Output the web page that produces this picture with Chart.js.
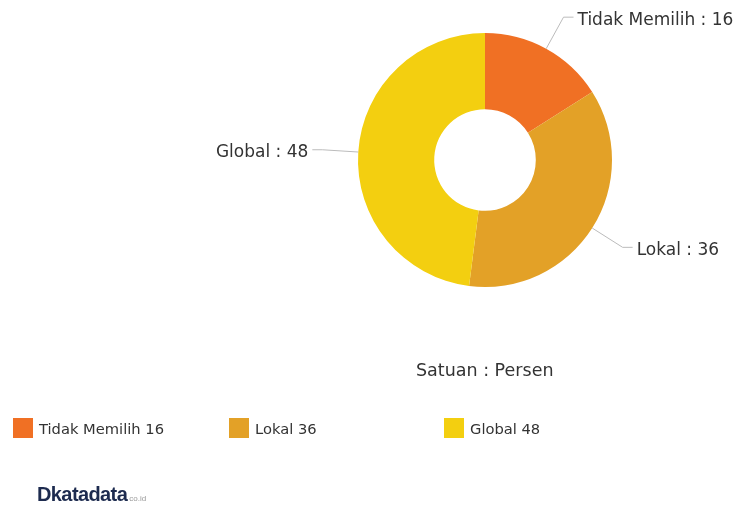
<!DOCTYPE html>
<html>
<head>
<meta charset="utf-8">
<script src="https://cdn.jsdelivr.net/npm/chart.js@4"></script>
<style>
  body { margin: 0; background: #fff; font-family: "DejaVu Sans", Verdana, sans-serif; color: #333; }
  #wrap { position: relative; width: 738px; height: 506px; }
  #c { position: absolute; left: 0; top: 0; }
  .satuan { position: absolute; left: 416px; top: 360px; font-size: 17.5px; color: #333; }
  .leg { position: absolute; top: 418px; font-size: 14.7px; color: #333; display: flex; align-items: center; height: 20px; }
  .leg span.box { width: 20px; height: 20px; display: inline-block; margin-right: 6px; }
  .logo { position: absolute; left: 37px; top: 483px; font-weight: bold; color: #1d2b4f; font-size: 20px; letter-spacing: -0.6px; font-family: "Liberation Sans Narrow", "Liberation Sans", sans-serif; }
  .logo small { font-size: 8px; font-weight: normal; color: #999; letter-spacing: 0; margin-left: 2px; }
</style>
</head>
<body>
<div id="wrap">
  <canvas id="c" width="738" height="506"></canvas>
  <div class="satuan">Satuan : Persen</div>
  <div id="legend"></div>
  <div class="logo">Dkatadata<small>co.id</small></div>
</div>
<script>
var kategori = ["Tidak Memilih", "Lokal", "Global"];
var nilai = [16, 36, 48];
var warna = ["#f07024", "#e3a127", "#f3cf10"];
var legendX = [13, 229, 444];

// legend di bawah
var lg = document.getElementById("legend");
for (var i = 0; i < kategori.length; i++) {
  var d = document.createElement("div");
  d.className = "leg";
  d.style.left = legendX[i] + "px";
  d.innerHTML = '<span class="box" style="background:' + warna[i] + '"></span>' + kategori[i] + " " + nilai[i];
  lg.appendChild(d);
}

// label dengan garis penunjuk
var labelLuar = {
  id: "labelLuar",
  afterDatasetsDraw: function(chart) {
    var ctx = chart.ctx;
    var meta = chart.getDatasetMeta(0);
    ctx.save();
    ctx.font = "17px 'DejaVu Sans', Verdana, sans-serif";
    ctx.textBaseline = "middle";
    meta.data.forEach(function(arc, i) {
      var mid = (arc.startAngle + arc.endAngle) / 2;
      var r = arc.outerRadius;
      var x1 = arc.x + Math.cos(mid) * r;
      var y1 = arc.y + Math.sin(mid) * r;
      var x2 = arc.x + Math.cos(mid) * (r + 36);
      var y2 = arc.y + Math.sin(mid) * (r + 36);
      var kanan = Math.cos(mid) >= 0;
      var x3 = x2 + (kanan ? 10 : -10);
      ctx.strokeStyle = "#bbbbbb";
      ctx.lineWidth = 1;
      ctx.beginPath();
      ctx.moveTo(x1, y1);
      ctx.lineTo(x2, y2);
      ctx.lineTo(x3, y2);
      ctx.stroke();
      ctx.fillStyle = "#333";
      ctx.textAlign = kanan ? "left" : "right";
      ctx.fillText(kategori[i] + " : " + nilai[i], x3 + (kanan ? 4 : -4), y2 + 3);
    });
    ctx.restore();
  }
};

new Chart(document.getElementById("c"), {
  type: "doughnut",
  data: {
    labels: kategori,
    datasets: [{
      data: nilai,
      backgroundColor: warna,
      borderWidth: 0
    }]
  },
  options: {
    responsive: false,
    animation: false,
    cutout: "40%",
    layout: { padding: { left: 358, right: 126, top: 33, bottom: 219 } },
    plugins: {
      legend: { display: false },
      tooltip: { enabled: false }
    }
  },
  plugins: [labelLuar]
});
</script>
</body>
</html>
